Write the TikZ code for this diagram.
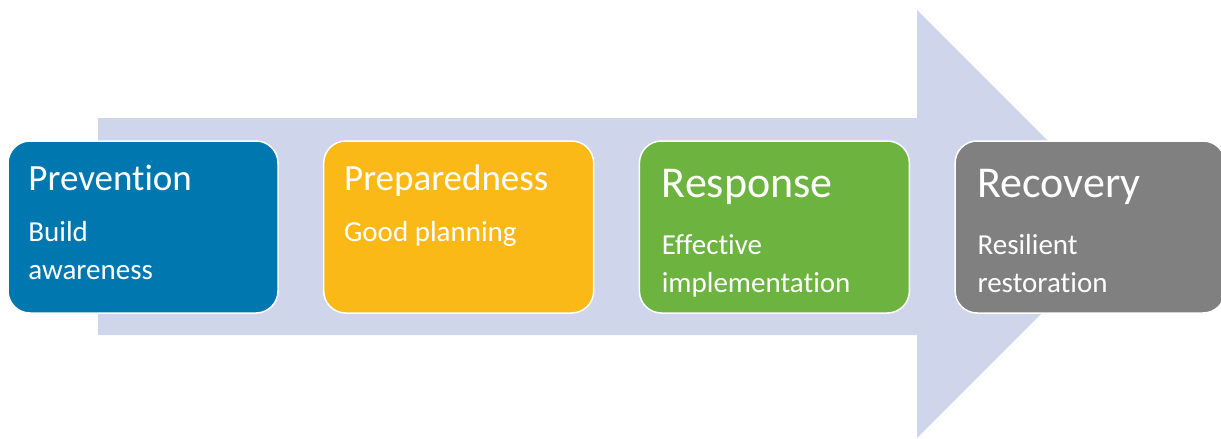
\documentclass[tikz,border=0pt]{standalone}
\usepackage{fontspec}
\setmainfont{Carlito}[Ligatures=NoCommon]
\usetikzlibrary{positioning}
\definecolor{flowbg}{RGB}{207,213,234}
\definecolor{prevblue}{RGB}{0,119,174}
\definecolor{prepamber}{RGB}{251,185,23}
\definecolor{respgreen}{RGB}{109,179,63}
\definecolor{recgrey}{RGB}{128,128,128}
\tikzset{
  stage/.style={rectangle,rounded corners=22pt,draw=white,line width=1.5pt,
    minimum width=270pt,minimum height=172pt,inner sep=0pt},
  smalltitle/.style={anchor=base west,inner sep=0pt,text=white,font=\fontsize{37}{40}\selectfont},
  bigtitle/.style={anchor=base west,inner sep=0pt,text=white,font=\fontsize{44}{48}\selectfont},
  stagedesc/.style={anchor=base west,inner sep=0pt,text=white,align=left,font=\fontsize{29}{38}\selectfont}
}

\begin{document}
\begin{tikzpicture}[x=1pt,y=-1pt,node distance=44.2pt]
        \useasboundingbox (0,0) rectangle (1221,439);
        % the big background arrow
        \fill[flowbg] (98,118) -- (917,118) -- (917,10) -- (1131,224)
          -- (917,438) -- (917,335) -- (98,335) -- cycle;
        \node[stage,fill=prevblue] (prevention) at (143,227) {};
        \node[stage,fill=prepamber,right=of prevention] (preparedness) {};
        \node[stage,fill=respgreen,right=of preparedness] (response) {};
        \node[stage,fill=recgrey,right=of response] (recovery) {};
        % titles and descriptions (base = last line)
        \node[smalltitle] (prevt) at ([shift={(21,50)}]prevention.north west) {Prevention};
        \node[stagedesc] (prevd) at ([shift={(21,139)}]prevention.north west) {Build\\awareness};
        \node[smalltitle] (prept) at ([shift={(21,50)}]preparedness.north west) {Preparedness};
        \node[stagedesc] (prepd) at ([shift={(21,101)}]preparedness.north west) {Good planning};
        \node[bigtitle] (respt) at ([shift={(23,57)}]response.north west) {Response};
        \node[stagedesc] (respd) at ([shift={(23,152)}]response.north west) {Effective\\implementation};
        \node[bigtitle] (rect) at ([shift={(23,57)}]recovery.north west) {Recovery};
        \node[stagedesc] (recd) at ([shift={(23,152)}]recovery.north west) {Resilient\\restoration};
      \end{tikzpicture}
\end{document}
